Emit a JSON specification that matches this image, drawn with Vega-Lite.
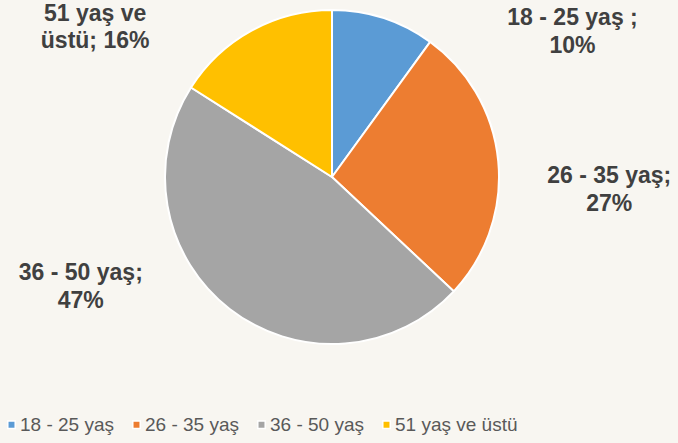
{
  "$schema": "https://vega.github.io/schema/vega-lite/v6.json",
  "width": 664,
  "height": 354,
  "autosize": {"type": "none"},
  "padding": {"left": 0, "top": 0, "right": 14, "bottom": 89},
  "background": "#f8f6f1",
  "config": {"view": {"stroke": null}, "font": "Liberation Sans"},
  "data": {
    "values": [
      {"cat": "18 - 25 yaş", "value": 10, "label": "18 - 25 yaş  ;\n10%"},
      {"cat": "26 - 35 yaş", "value": 27, "label": "26 - 35 yaş;\n27%"},
      {"cat": "36 - 50 yaş", "value": 47, "label": "36 - 50 yaş;\n47%"},
      {"cat": "51 yaş ve üstü", "value": 16, "label": "51 yaş ve\nüstü; 16%"}
    ]
  },
  "transform": [
    {"stack": "value", "groupby": [], "sort": [{"field": "cat", "order": "ascending"}], "as": ["v0", "v1"]},
    {"calculate": "(datum.v0 + datum.v1) / 2", "as": "mid"}
  ],
  "layer": [
    {
      "mark": {"type": "arc", "outerRadius": 167, "stroke": "white", "strokeWidth": 2},
      "encoding": {
        "theta": {"field": "v0", "type": "quantitative", "stack": null, "scale": {"domain": [0, 100]}},
        "theta2": {"field": "v1"},
        "color": {
          "field": "cat",
          "type": "nominal",
          "scale": {"domain": ["18 - 25 yaş", "26 - 35 yaş", "36 - 50 yaş", "51 yaş ve üstü"], "range": ["#5B9BD5", "#ED7D31", "#A5A5A5", "#FFC000"]},
          "legend": {
            "title": null,
            "orient": "none",
            "legendX": 2,
            "legendY": 415,
            "direction": "horizontal",
            "symbolType": "square",
            "symbolSize": 55,
            "symbolStrokeColor": "white",
            "symbolStrokeWidth": 1.5,
            "labelFontSize": 19,
            "labelFont": "Liberation Sans",
            "labelColor": "#595959",
            "columnPadding": 13,
            "labelOffset": -1
          }
        }
      }
    },
    {
      "transform": [{"filter": "datum.cat == '18 - 25 yaş'"}],
      "mark": {"type": "text", "radius": 170, "dx": 188, "dy": 3, "fontSize": 23, "fontWeight": "bold", "color": "#404040", "lineBreak": "\n", "lineHeight": 28, "align": "center", "baseline": "middle"},
      "encoding": {"theta": {"field": "mid", "type": "quantitative", "stack": null}, "text": {"field": "label"}}
    },
    {
      "transform": [{"filter": "datum.cat == '26 - 35 yaş'"}],
      "mark": {"type": "text", "radius": 170, "dx": 108, "dy": 15, "fontSize": 23, "fontWeight": "bold", "color": "#404040", "lineBreak": "\n", "lineHeight": 28, "align": "center", "baseline": "middle"},
      "encoding": {"theta": {"field": "mid", "type": "quantitative", "stack": null}, "text": {"field": "label"}}
    },
    {
      "transform": [{"filter": "datum.cat == '36 - 50 yaş'"}],
      "mark": {"type": "text", "radius": 170, "dx": -147, "dy": -38, "fontSize": 23, "fontWeight": "bold", "color": "#404040", "lineBreak": "\n", "lineHeight": 28, "align": "center", "baseline": "middle"},
      "encoding": {"theta": {"field": "mid", "type": "quantitative", "stack": null}, "text": {"field": "label"}}
    },
    {
      "transform": [{"filter": "datum.cat == '51 yaş ve üstü'"}],
      "mark": {"type": "text", "radius": 170, "dx": -155, "dy": -14, "fontSize": 23, "fontWeight": "bold", "color": "#404040", "lineBreak": "\n", "lineHeight": 27, "align": "center", "baseline": "middle"},
      "encoding": {"theta": {"field": "mid", "type": "quantitative", "stack": null}, "text": {"field": "label"}}
    }
  ]
}
